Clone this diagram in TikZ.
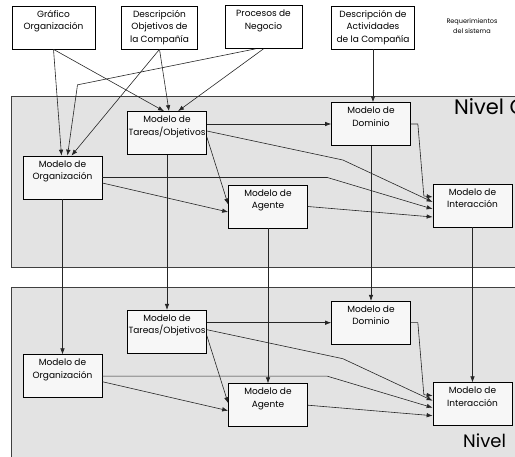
\documentclass[tikz,border=0pt]{standalone}
\usepackage{fontspec}
\setmainfont{Poppins}
\usepackage{tikz}
\usetikzlibrary{arrows.meta, positioning, calc}
\tikzset{
    base/.style={draw=black, line width=0.7pt, font=\fontsize{9}{12.5}\selectfont, align=center, inner sep=1pt},
    block/.style={base, rectangle, fill=black!3, minimum width=79pt, minimum height=43pt, text depth=15pt},
    source/.style={base, rectangle, fill=white, minimum height=43pt, text depth=15pt},
    panel/.style={draw=black!75, line width=0.7pt, fill=black!11},
    line/.style={draw=black!85, line width=0.6pt, -{Latex[length=6pt, width=4.5pt]}},
    level/.style={anchor=base west, inner sep=0pt, font=\fontsize{21}{21}\selectfont}
}

\begin{document}
\begin{tikzpicture}[x=1pt, y=-1pt]
    \useasboundingbox (0,0) rectangle (515,457);
    \clip (0,0) rectangle (515,457);

    % niveles
    \path[panel] (11,96) rectangle (530,267);
    \path[panel] (11,287) rectangle (530,470);
    \node[level] (nivelA) at (454,115) {Nivel C};
    \node[level, font=\fontsize{18}{18}\selectfont] (nivelB) at (463,448) {Nivel};

    % entradas
    \node [source, minimum width=83pt] (graf) at (53.5,27.5) {Gráfico\\Organización};
    \node [source, minimum width=76pt, text depth=3pt] (obj) at (159.5,27.5) {Descripción\\Objetivos de\\la Compañía};
    \node [source, minimum width=77pt] (proc) at (263.5,27) {Procesos de\\Negocio};
    \node [source, minimum width=83pt, text depth=3pt] (act) at (373,27.5) {Descripción de\\Actividades\\de la Compañía};
    \node [font=\fontsize{6.5}{10}\selectfont, align=center] (req) at (472,26) {Requerimientos\\del sistema};

    % nivel 1
    \node [block] (tar1) at (167,133) {Modelo de\\Tareas/Objetivos};
    \node [block] (org1) at (62.5,177.5) {Modelo de\\Organización};
    \node [block] (age1) at (268,206.5) {Modelo de\\Agente};
    \node [block] (dom1) at (371,124) {Modelo de\\Dominio};
    \node [block] (int1) at (472.5,205.5) {Modelo de\\Interacción};

    % nivel 2
    \node [block, below=155pt of tar1] (tar2) {Modelo de\\Tareas/Objetivos};
    \node [block, below=155pt of org1] (org2) {Modelo de\\Organización};
    \node [block, below=155pt of age1] (age2) {Modelo de\\Agente};
    \node [block, below=155pt of dom1] (dom2) {Modelo de\\Dominio};
    \node [block, below=155pt of int1] (int2) {Modelo de\\Interacción};

    % entradas -> nivel 1
    \draw [line] (graf.south) -- ([xshift=-1pt]org1.north);
    \draw [line] (graf.south) -- ([xshift=-3pt]tar1.north);
    \draw [line] (obj.south) -- ([xshift=9pt]org1.north);
    \draw [line] (obj.south) -- ([xshift=2pt]tar1.north);
    \draw [line] ([xshift=-8pt]proc.south) -- ++(-178,36) -- ([xshift=5pt]org1.north);
    \draw [line] (proc.south) -- ([xshift=11pt]tar1.north);
    \draw [line] (act.south) -- (act.south |- dom1.north);

    % nivel 1
    \draw [line] (tar1.east |- dom1.west) -- (dom1.west);
    \draw [line] ([yshift=2pt]tar1.east) -- ++(136,29) -- ([yshift=3.5pt]int1.west);
    \draw [line] ([yshift=-4pt]tar1.east) -- ([yshift=2pt]age1.west);
    \draw [line] (org1.east) -- ++(225,0) -- ([yshift=-3.5pt]int1.west);
    \draw [line] ([yshift=-5.5pt]org1.east) -- ([yshift=-5.5pt]age1.west);
    \draw [line] (age1.east) -- ([yshift=-11.5pt]int1.west);
    \draw [line] (dom1.east) -- ++(7,0) -- ++(6,72) -- ([yshift=8.5pt]int1.west);

    % nivel 1 -> nivel 2
    \draw [line] (org1.south) -- (org2.north);
    \draw [line] (tar1.south) -- (tar2.north);
    \draw [line] (age1.south) -- (age2.north);
    \draw [line] (dom1.south) -- (dom2.north);
    \draw [line] (int1.south) -- (int2.north);

    % nivel 2
    \draw [line] (tar2.east |- dom2.west) -- (dom2.west);
    \draw [line] ([yshift=2pt]tar2.east) -- ++(136,29) -- ([yshift=3.5pt]int2.west);
    \draw [line] ([yshift=-4pt]tar2.east) -- ([yshift=2pt]age2.west);
    \draw [line] (org2.east) -- ++(225,0) -- ([yshift=-3.5pt]int2.west);
    \draw [line] ([yshift=-5.5pt]org2.east) -- ([yshift=-5.5pt]age2.west);
    \draw [line] (age2.east) -- ([yshift=-11.5pt]int2.west);
    \draw [line] (dom2.east) -- ++(7,0) -- ++(6,72) -- ([yshift=8.5pt]int2.west);
\end{tikzpicture}
\end{document}
